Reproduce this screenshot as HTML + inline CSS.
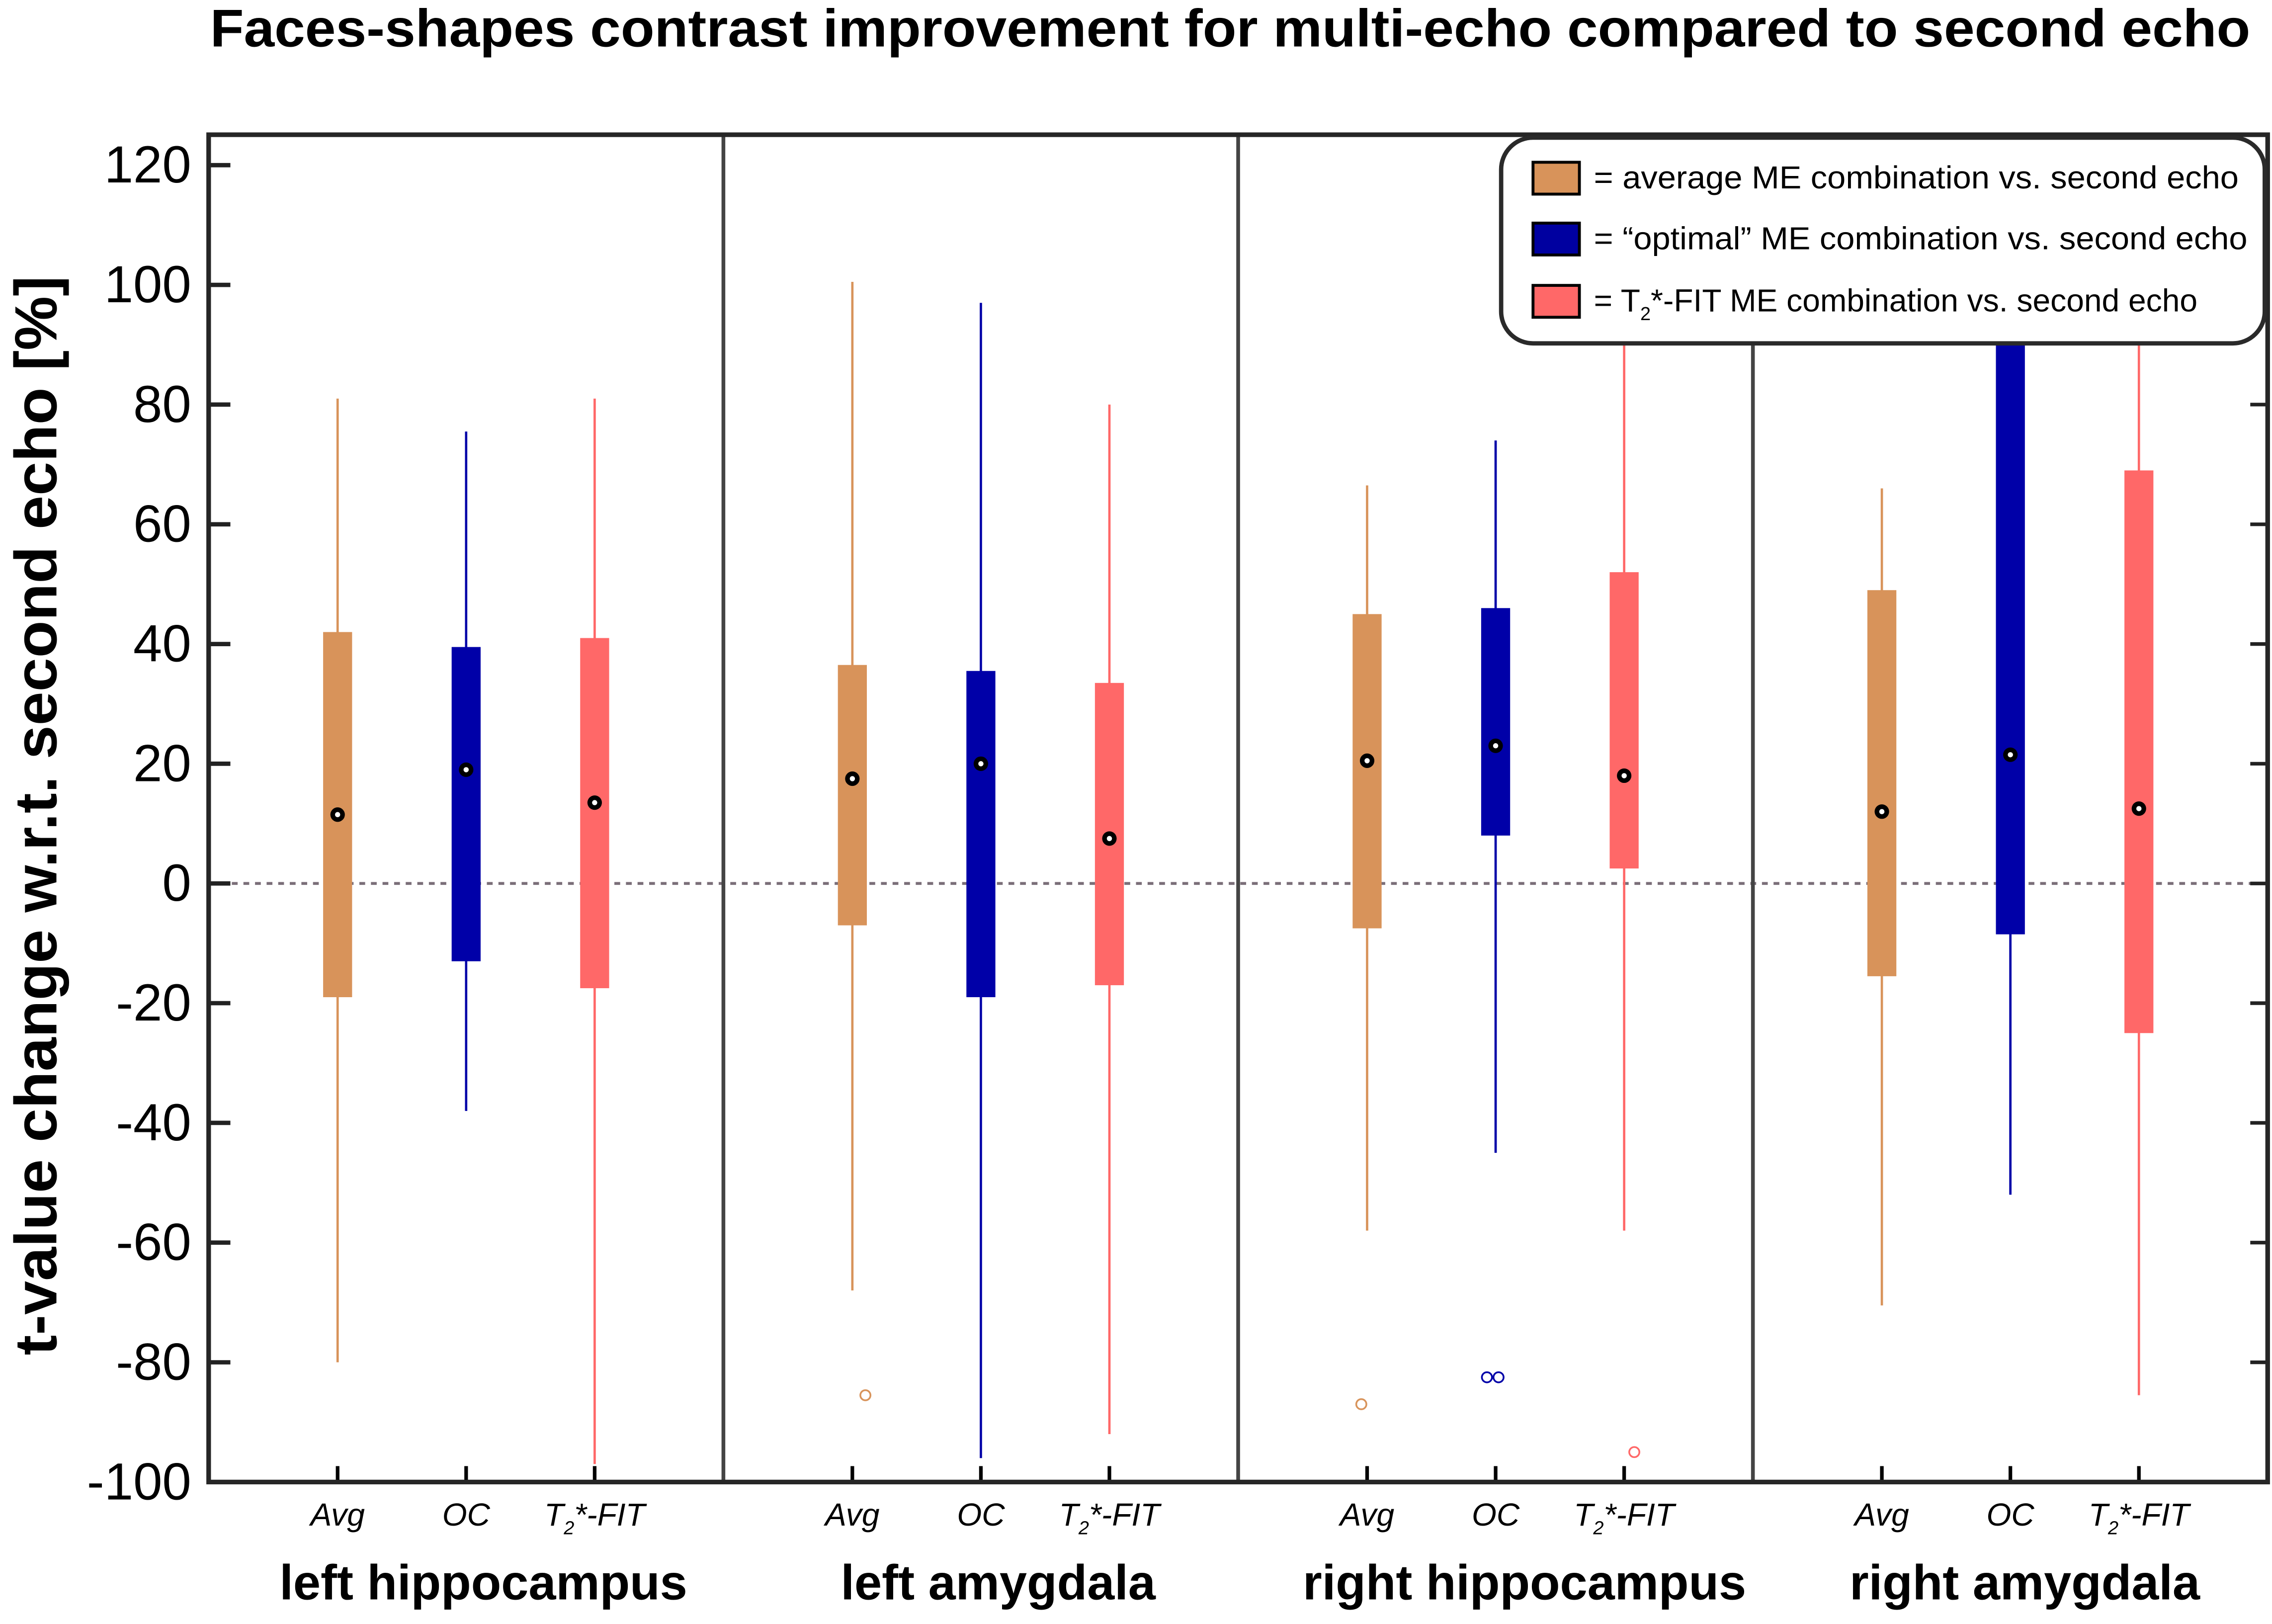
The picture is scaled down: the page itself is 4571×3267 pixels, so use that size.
<!DOCTYPE html>
<html><head><meta charset="utf-8"><style>
html,body{margin:0;padding:0;background:#fff}
svg{display:block}
text{font-family:"Liberation Sans",sans-serif}
</style></head><body>
<svg id="chart" width="4571" height="3267" viewBox="0 0 1568 1121" preserveAspectRatio="none" xmlns="http://www.w3.org/2000/svg">
<defs><clipPath id="plotclip"><rect x="144" y="93" width="1421" height="930"/></clipPath></defs>
<text x="849" y="32" text-anchor="middle" font-size="36.5" font-weight="bold" textLength="1408" lengthAdjust="spacingAndGlyphs">Faces-shapes contrast improvement for multi-echo compared to second echo</text>
<text transform="translate(39,563) rotate(-90)" text-anchor="middle" font-size="41" font-weight="bold" textLength="745" lengthAdjust="spacingAndGlyphs">t-value change w.r.t. second echo [%]</text>
<g id="grid"></g>
<g id="marks" clip-path="url(#plotclip)"></g>
<g id="axes"></g>
<g id="legend">
<rect x="1036" y="95" width="527" height="142" rx="22" fill="#fff" stroke="#2a2a2a" stroke-width="3"/>
<rect x="1058" y="112" width="32" height="22" fill="#D8935A" stroke="#000" stroke-width="2"/>
<text x="1100" y="130" font-size="22" textLength="445" lengthAdjust="spacingAndGlyphs">= average ME combination vs. second echo</text>
<rect x="1058" y="154" width="32" height="22" fill="#0000A0" stroke="#000" stroke-width="2"/>
<text x="1100" y="172" font-size="22" textLength="451" lengthAdjust="spacingAndGlyphs">= “optimal” ME combination vs. second echo</text>
<rect x="1058" y="197" width="32" height="22" fill="#FF6868" stroke="#000" stroke-width="2"/>
<text x="1100" y="215" font-size="22">= T<tspan font-size="13" dy="6">2</tspan><tspan dy="-6">*-FIT ME combination vs. second echo</tspan></text>
</g>
</svg>
<script>
const regions = ["left hippocampus","left amygdala","right hippocampus","right amygdala"];
const methods = ["Avg","OC","T2*-FIT"];
const colors = ["#D8935A","#0000A8","#FF6868"];
const whiskerHigh = [[81,75.5,81],[100.5,97,80],[66.5,74,112],[66,140,112]];
const q3 = [[42,39.5,41],[36.5,35.5,33.5],[45,46,52],[49,110,69]];
const medians = [[11.5,19,13.5],[17.5,20,7.5],[20.5,23,18],[12,21.5,12.5]];
const q1 = [[-19,-13,-17.5],[-7,-19,-17],[-7.5,8,2.5],[-15.5,-8.5,-25]];
const whiskerLow = [[-80,-38,-97],[-68,-96,-92],[-58,-45,-58],[-70.5,-52,-85.5]];
const outliers = [[[],[],[]],[[-85.5],[],[]],[[-87],[-82.5,-82.5],[-95]],[[],[],[]]];
const yTicks = [120,100,80,60,40,20,0,-20,-40,-60,-80,-100];

const NS="http://www.w3.org/2000/svg";
const L=144,R=1565,T=93,B=1023;
const yMin=-100,yMax=120,yTopPix=114;
function yS(v){return B-(v-yMin)/(yMax-yMin)*(B-yTopPix);}
const pw=(R-L)/4;
function xS(r,m){return L+r*pw+89+m*88.7;}
const jit=[[0,0,0],[9,0,0],[-4,0,7],[0,0,0]];
function mk(tag,attrs,parent){const e=document.createElementNS(NS,tag);for(const k in attrs)e.setAttribute(k,attrs[k]);parent.appendChild(e);return e;}
const grid=document.getElementById('grid'),marks=document.getElementById('marks'),axes=document.getElementById('axes');

let z=mk('line',{x1:L,x2:R,y1:yS(0),y2:yS(0),stroke:'#7a6e78','stroke-width':2,'stroke-dasharray':'4,4'},grid);



for(let r=0;r<4;r++){
  for(let m=0;m<3;m++){
    const x=xS(r,m),c=colors[m];
    const g=mk('g',{},marks);
    
    
    mk('line',{x1:x,x2:x,y1:yS(whiskerHigh[r][m]),y2:yS(whiskerLow[r][m]),stroke:c,'stroke-width':1.6},g);
    mk('rect',{x:x-10,y:yS(q3[r][m]),width:20,height:yS(q1[r][m])-yS(q3[r][m]),fill:c},g);
    mk('circle',{cx:x,cy:yS(medians[r][m]),r:5,fill:'#000'},g);
    mk('circle',{cx:x,cy:yS(medians[r][m]),r:1.8,fill:'#fff'},g);
    const os=outliers[r][m];
    os.forEach((v,i)=>{
      const ox=os.length>1?x-6+i*8:x+jit[r][m];
      const o=mk('circle',{cx:ox,cy:yS(v),r:3.5,fill:'none',stroke:c,'stroke-width':1.2},g);
      
      
    });
    mk('line',{x1:x,x2:x,y1:B,y2:B-11,stroke:'#000','stroke-width':2.5},axes);
    const lbl=mk('text',{x:x,y:1053,'text-anchor':'middle','font-size':22,'font-style':'italic'},axes);
    
    
    if(methods[m]==='T2*-FIT'){lbl.innerHTML='T<tspan font-size="13" dy="6">2</tspan><tspan dy="-6">*-FIT</tspan>';}
    else lbl.textContent=methods[m];
  }
  const rl=mk('text',{x:L+r*pw+pw/2+(r===2?20:(r===3?10:12)),y:1104,'text-anchor':'middle','font-size':34,'font-weight':'bold'},axes);
  
  
  rl.textContent=regions[r];
  if(r>0){
    const d=mk('line',{x1:L+r*pw,x2:L+r*pw,y1:T,y2:B,stroke:'#444','stroke-width':2.6},axes);
    
    
  }
}
yTicks.forEach(v=>{
  const y=yS(v);
  mk('line',{x1:L,x2:L+15,y1:y,y2:y,stroke:'#222','stroke-width':3},axes);
  mk('line',{x1:R-12,x2:R,y1:y,y2:y,stroke:'#222','stroke-width':2.5},axes);
  const t=mk('text',{x:132,y:y+12,'text-anchor':'end','font-size':36},axes);
  
  
  t.textContent=v;
});
const frame=mk('rect',{x:L,y:T,width:R-L,height:B-T,fill:'none',stroke:'#262626','stroke-width':3.2},axes);


</script>
</body></html>
